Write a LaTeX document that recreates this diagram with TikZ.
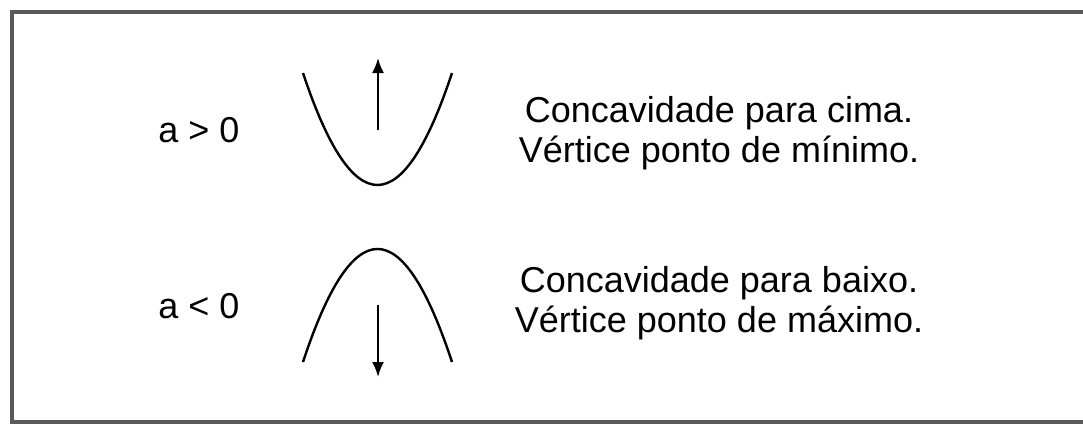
\documentclass[tikz,border=0pt]{standalone}
\usepackage{fontspec}
\setmainfont{Liberation Sans}
\usetikzlibrary{arrows.meta}
\begin{document}
\begin{tikzpicture}[x=1pt,y=-1pt,
  curve/.style={line width=2.4pt,black},
  arr/.style={line width=2.2pt,-{Latex[length=15pt,width=12pt]}},
  lbl/.style={font=\fontsize{36}{40}\selectfont,inner sep=0pt,anchor=base},
  desc/.style={font=\fontsize{36}{40}\selectfont,inner sep=0pt,align=center,anchor=north}]
\useasboundingbox (0,0) rectangle (1083,424);
\begin{scope}
\clip (0,0) rectangle (1083,424);
\draw[line width=3.5pt,draw=black!65] (12,12) rectangle (1088,422);
\end{scope}
% upper
\coordinate (u1) at (303,73);
\coordinate (u2) at (452,73);
\coordinate (uc1) at (352.7,222.3);
\coordinate (uc2) at (402.3,222.3);
\draw[curve] (u1) .. controls (uc1) and (uc2) .. (u2);
\coordinate (ua) at (378,130);
\coordinate (ub) at (378,58);
\draw[arr] (ua) -- (ub);
\node[lbl] (ta) at (199,142) {a > 0};
\node[lbl] (t1) at (719,122) {Concavidade para cima.};
\node[lbl] (t2) at (719,162) {Vértice ponto de mínimo.};
% lower
\coordinate (l1) at (303,362);
\coordinate (l2) at (452,362);
\coordinate (lc1) at (352.7,211.3);
\coordinate (lc2) at (402.3,211.3);
\draw[curve] (l1) .. controls (lc1) and (lc2) .. (l2);
\coordinate (la) at (378,305);
\coordinate (lb) at (378,377);
\draw[arr] (la) -- (lb);
\node[lbl] (tb) at (199,318) {a < 0};
\node[lbl] (t3) at (719,292) {Concavidade para baixo.};
\node[lbl] (t4) at (719,332) {Vértice ponto de máximo.};
\end{tikzpicture}
\end{document}
